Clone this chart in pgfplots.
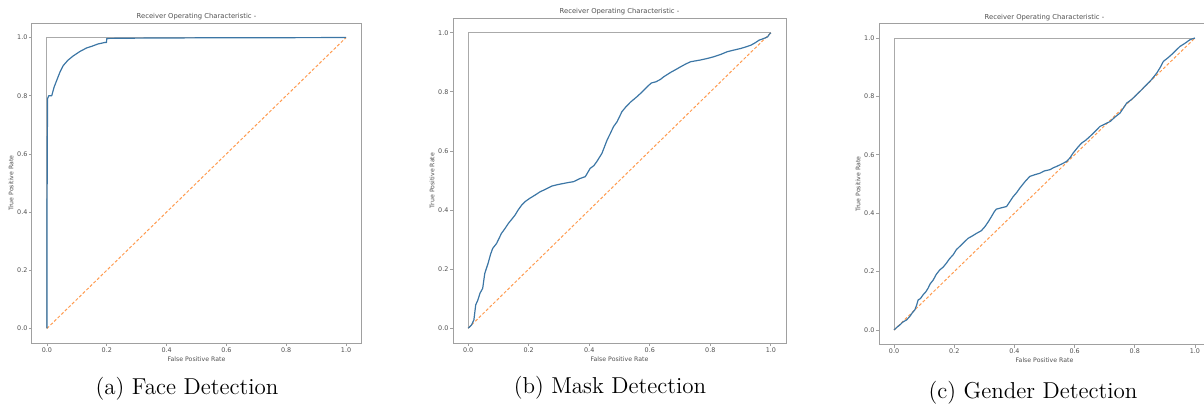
\documentclass[border=0pt]{standalone}
\usepackage{fontspec}
\usepackage{pgfplots}
\pgfplotsset{compat=1.18}
\newfontfamily\axisfont{DejaVu Sans}
\definecolor{roc}{RGB}{60,118,165}
\definecolor{diag}{RGB}{255,155,80}
\definecolor{spine}{RGB}{160,160,160}
\definecolor{perfect}{RGB}{170,170,170}
\definecolor{txt}{RGB}{80,80,80}
\pgfplotsset{
  rocax/.style={
    scale only axis,
    xmin=-0.05, xmax=1.05, ymin=-0.05, ymax=1.05,
    xtick={0,0.2,0.4,0.6,0.8,1.0}, ytick={0,0.2,0.4,0.6,0.8,1.0},
    xticklabels={0.0,0.2,0.4,0.6,0.8,1.0}, yticklabels={0.0,0.2,0.4,0.6,0.8,1.0},
    tick align=outside, major tick length=1.5pt,
    tick style={spine, line width=0.4pt},
    xtick pos=bottom, ytick pos=left,
    axis line style={spine, line width=0.5pt},
    /pgf/number format/assume math mode=true,
    tick label style={font=\axisfont\fontsize{3.2}{4}\selectfont, text=txt, inner sep=0.6pt},
    every axis title/.style={at={(axis description cs:0.5,1)}, anchor=center, yshift=3pt, font=\axisfont\fontsize{3.4}{4}\selectfont, text=txt},
    every axis x label/.style={at={(axis description cs:0.5,0)}, anchor=center, yshift=-8pt, inner sep=0pt, font=\axisfont\fontsize{3.1}{4}\selectfont, text=txt},
    every axis y label/.style={at={(axis description cs:0,0.5)}, anchor=center, xshift=-10.5pt, inner sep=0pt, rotate=90, font=\axisfont\fontsize{3.1}{4}\selectfont, text=txt},
    title={Receiver Operating Characteristic -},
    xlabel={False Positive Rate}, ylabel={True Positive Rate},
  },
  perf/.style={perfect, line width=0.5pt},
  dg/.style={diag, line width=0.5pt, dash pattern=on 1.5pt off 1pt},
  rc/.style={roc, line width=0.6pt, line join=round},
}
\begin{document}
\begin{tikzpicture}
\clip (0,0) rectangle (602pt,202pt);
% (a) Face Detection
\begin{axis}[rocax, at={(16pt,30.5pt)}, anchor=south west, width=164.5pt, height=160pt]
\addplot[perf] coordinates {(0,0) (0,1) (1,1)};
\addplot[dg] coordinates {(0,0) (1,1)};
\addplot[rc] coordinates {
(0,0) (0.0,0.30) (0.001,0.60) (0.002,0.79) (0.006,0.80) (0.016,0.80)
(0.024,0.83) (0.032,0.851) (0.043,0.88) (0.054,0.903) (0.07,0.922)
(0.088,0.937) (0.11,0.952) (0.132,0.964) (0.15,0.97) (0.171,0.978)
(0.193,0.983) (0.199,0.983) (0.200,0.997) (0.30,0.998) (0.5,0.999) (1,1)};
\end{axis}
% (b) Mask Detection
\begin{axis}[rocax, at={(226.5pt,30.5pt)}, anchor=south west, width=166.5pt, height=162.5pt]
\addplot[perf] coordinates {(0,0) (0,1) (1,1)};
\addplot[dg] coordinates {(0,0) (1,1)};
\addplot[rc] coordinates {
(0,0) (0.011,0.011) (0.019,0.028) (0.025,0.079) (0.032,0.095) (0.039,0.118)
(0.048,0.135) (0.055,0.186) (0.066,0.22) (0.074,0.25) (0.081,0.27) (0.094,0.287)
(0.11,0.321) (0.12,0.335) (0.133,0.355) (0.145,0.37) (0.155,0.383) (0.165,0.40)
(0.177,0.417) (0.19,0.43) (0.204,0.44) (0.22,0.45) (0.238,0.462) (0.255,0.47)
(0.276,0.481) (0.295,0.486) (0.315,0.49) (0.33,0.493) (0.348,0.496) (0.36,0.502)
(0.37,0.507) (0.387,0.513) (0.403,0.541) (0.415,0.55) (0.425,0.564) (0.442,0.592)
(0.459,0.637) (0.47,0.66) (0.48,0.682) (0.492,0.699) (0.508,0.733) (0.52,0.748)
(0.536,0.765) (0.558,0.784) (0.575,0.80) (0.591,0.817) (0.605,0.83) (0.62,0.834)
(0.635,0.842) (0.646,0.851) (0.669,0.866) (0.685,0.875) (0.702,0.885) (0.72,0.895)
(0.735,0.902) (0.768,0.908) (0.79,0.913) (0.812,0.919) (0.835,0.927) (0.856,0.936)
(0.88,0.942) (0.901,0.947) (0.92,0.953) (0.934,0.958) (0.948,0.966) (0.961,0.975)
(0.975,0.98) (0.989,0.986) (0.995,0.995) (1,1)};
\end{axis}
% (c) Gender Detection
\begin{axis}[rocax, at={(439.5pt,29.7pt)}, anchor=south west, width=165.5pt, height=160.6pt]
\addplot[perf] coordinates {(0,0) (0,1) (1,1)};
\addplot[dg] coordinates {(0,0) (1,1)};
\addplot[rc] coordinates {
(0,0) (0.01,0.01) (0.019,0.017) (0.03,0.028) (0.041,0.034) (0.052,0.046)
(0.06,0.058) (0.069,0.069) (0.075,0.085) (0.08,0.103) (0.088,0.108) (0.096,0.12)
(0.105,0.13) (0.113,0.143) (0.12,0.158) (0.13,0.171) (0.14,0.19) (0.152,0.206)
(0.163,0.215) (0.174,0.229) (0.185,0.245) (0.196,0.257) (0.207,0.275) (0.218,0.286)
(0.232,0.30) (0.246,0.314) (0.26,0.322) (0.274,0.331) (0.29,0.34) (0.302,0.354)
(0.314,0.372) (0.324,0.389) (0.333,0.405) (0.34,0.414) (0.355,0.418) (0.374,0.423)
(0.385,0.44) (0.396,0.457) (0.407,0.47) (0.418,0.486) (0.435,0.508) (0.451,0.526)
(0.468,0.532) (0.485,0.537) (0.5,0.545) (0.518,0.549) (0.53,0.556) (0.54,0.56)
(0.556,0.568) (0.573,0.577) (0.585,0.59) (0.595,0.606) (0.61,0.625) (0.623,0.64)
(0.637,0.65) (0.651,0.663) (0.668,0.68) (0.684,0.697) (0.7,0.705) (0.718,0.714)
(0.735,0.73) (0.751,0.743) (0.762,0.76) (0.773,0.777) (0.79,0.79) (0.806,0.806)
(0.822,0.822) (0.839,0.84) (0.856,0.858) (0.873,0.88) (0.885,0.9) (0.895,0.92)
(0.91,0.932) (0.922,0.943) (0.936,0.957) (0.95,0.971) (0.967,0.982) (0.983,0.994) (1,1)};
\end{axis}
% captions
\node[anchor=base, font=\fontsize{11.5}{14}\selectfont] at (93.5pt,5pt) {(a) Face Detection};
\node[anchor=base, font=\fontsize{11.5}{14}\selectfont] at (305pt,5.5pt) {(b) Mask Detection};
\node[anchor=base, font=\fontsize{11.5}{14}\selectfont] at (516.5pt,3pt) {(c) Gender Detection};
\end{tikzpicture}
\end{document}
